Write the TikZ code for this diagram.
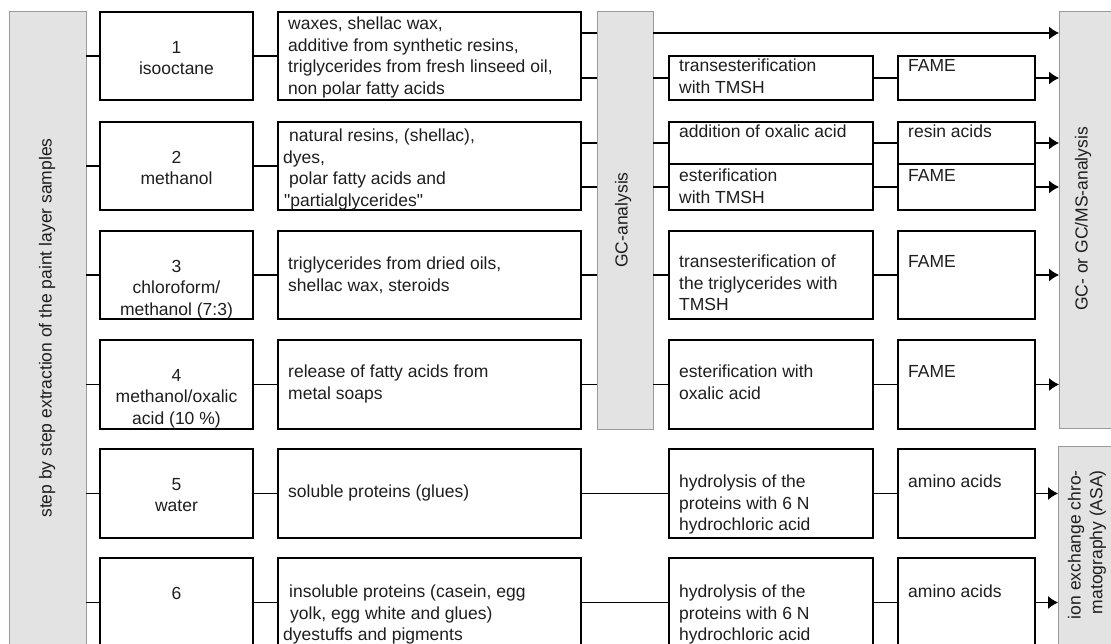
\documentclass[tikz,border=0pt]{standalone}
\usepackage{fontspec}
\setmainfont{Liberation Sans}
\usetikzlibrary{arrows.meta}
\definecolor{barfill}{HTML}{E3E3E3}
\definecolor{barline}{HTML}{9A9A9A}
\definecolor{ink}{HTML}{1E1E1E}
\newcommand{\fs}{\fontsize{17.5}{21.6}\selectfont}
\newcommand{\mkbox}[5]{%
  \node[box, minimum width={(#4-#2)*1pt}, minimum height={(#5-#3)*1pt}] (#1) at (#2,#3) {};
  \draw[side] (#1.north west) -- (#1.south west) (#1.north east) -- (#1.south east);
}
\newcommand{\mkbar}[5]{%
  \node[bar, minimum width={(#4-#2)*1pt}, minimum height={(#5-#3)*1pt}] (#1) at (#2,#3) {};
}
\begin{document}
\begin{tikzpicture}[x=1pt,y=-1pt,
  box/.style={draw=black, line width=1.5pt, inner sep=0pt, outer sep=0pt, anchor=north west},
  side/.style={line width=2.8pt},
  bar/.style={draw=barline, fill=barfill, line width=1pt, inner sep=0pt, outer sep=0pt, anchor=north west},
  txt/.style={inner sep=0pt, anchor=north west, align=left, text=ink, font=\fs},
  ctxt/.style={inner sep=0pt, anchor=north, align=center, text=ink, font=\fs},
  rtxt/.style={inner sep=0pt, rotate=90, text=ink, font=\fs},
  link/.style={line width=1.2pt},
  arr/.style={line width=1.2pt, -{Latex[length=10pt,width=13pt]}}]
\useasboundingbox (0,0) rectangle (1111,644);
\clip (0,0) rectangle (1111,644);
\fill[white] (0,0) rectangle (1111,644);

% grey bars
\mkbar{L}{9}{12}{86}{660}
\mkbar{GC}{597}{12}{653}{429}
\mkbar{MS}{1059}{12}{1125}{428}
\mkbar{ION}{1058}{446}{1125}{660}
\node[rtxt] (tL) at (47,328) {step by step extraction of the paint layer samples};
\node[rtxt] (tGC) at (623,220) {GC-analysis};
\node[rtxt] (tMS) at (1083,219) {GC- or GC/MS-analysis};
\node[rtxt, anchor=east, align=right] (tION) at (1087,470) {ion exchange chro-\\matography (ASA)};

% column 1: solvents
\mkbox{c1}{100}{12}{253}{100}
\mkbox{c2}{100}{122}{253}{210}
\mkbox{c3}{100}{231}{253}{319}
\mkbox{c4}{100}{340}{253}{429}
\mkbox{c5}{100}{449}{253}{538}
\mkbox{c6}{100}{558}{253}{647}
\node[ctxt] (tc1) at (176.5,38) {\strut 1\\isooctane};
\node[ctxt] (tc2) at (176.5,148) {\strut 2\\methanol};
\node[ctxt] (tc3) at (176.5,257) {\strut 3\\chloroform/\\methanol (7:3)};
\node[ctxt] (tc4) at (176.5,366) {\strut 4\\methanol/oxalic\\acid (10 \%)};
\node[ctxt] (tc5) at (176.5,475) {\strut 5\\water};
\node[ctxt] (tc6) at (176.5,584) {\strut 6};

% column 2: extracted substances
\mkbox{d1}{278}{12}{581}{100}
\mkbox{d2}{278}{122}{581}{210}
\mkbox{d3}{278}{231}{581}{319}
\mkbox{d4}{278}{340}{581}{429}
\mkbox{d5}{278}{449}{581}{538}
\mkbox{d6}{278}{558}{581}{647}
\node[txt] (td1) at (288,14.4) {\strut waxes, shellac wax,\\additive from synthetic resins,\\triglycerides from fresh linseed oil,\\non polar fatty acids};
\node[txt] (td2) at (283,126.4) {\strut\hspace*{6pt}natural resins, (shellac),\\dyes,\\\hspace*{6pt}polar fatty acids and\\\hspace*{1pt}\textquotedbl partialglycerides\textquotedbl};
\node[txt] (td3) at (288,254.4) {\strut triglycerides from dried oils,\\shellac wax, steroids};
\node[txt] (td4) at (288,362.4) {\strut release of fatty acids from\\metal soaps};
\node[txt] (td5) at (288,482.4) {\strut soluble proteins (glues)};
\node[txt] (td6) at (283,582.4) {\strut\hspace*{6pt}insoluble proteins (casein, egg\\\hspace*{7pt}yolk, egg white and glues)\\dyestuffs and pigments};

% column 3: derivatisation
\mkbox{r1}{669}{56}{873}{100}
\mkbox{r2a}{669}{122}{873}{164}
\mkbox{r2b}{669}{164}{873}{210}
\mkbox{r3}{669}{231}{873}{319}
\mkbox{r4}{669}{340}{873}{429}
\mkbox{r5}{669}{449}{873}{538}
\mkbox{r6}{669}{558}{873}{647}
\node[txt] (tr1) at (679,56.4) {\strut transesterification\\with TMSH};
\node[txt] (tr2a) at (679,122.4) {\strut addition of oxalic acid};
\node[txt] (tr2b) at (679,166.4) {\strut esterification\\with TMSH};
\node[txt] (tr3) at (679,252.4) {\strut transesterification of\\the triglycerides with\\TMSH};
\node[txt] (tr4) at (679,362.4) {\strut esterification with\\oxalic acid};
\node[txt] (tr5) at (679,472.4) {\strut hydrolysis of the\\proteins with 6 N\\hydrochloric acid};
\node[txt] (tr6) at (679,582.4) {\strut hydrolysis of the\\proteins with 6 N\\hydrochloric acid};

% column 4: products
\mkbox{p1}{898}{56}{1035}{100}
\mkbox{p2a}{898}{122}{1035}{164}
\mkbox{p2b}{898}{164}{1035}{210}
\mkbox{p3}{898}{231}{1035}{319}
\mkbox{p4}{898}{340}{1035}{429}
\mkbox{p5}{898}{449}{1035}{538}
\mkbox{p6}{898}{558}{1035}{647}
\node[txt] (tp1) at (908,56.4) {\strut FAME};
\node[txt] (tp2a) at (908,122.4) {\strut resin acids};
\node[txt] (tp2b) at (908,166.4) {\strut FAME};
\node[txt] (tp3) at (908,252.4) {\strut FAME};
\node[txt] (tp4) at (908,362.4) {\strut FAME};
\node[txt] (tp5) at (908,472.4) {\strut amino acids};
\node[txt] (tp6) at (908,582.4) {\strut amino acids};

% connectors: left bar -> solvents -> substances
\foreach \i in {1,...,6}{
  \draw[link] (L.east |- c\i.west) -- (c\i.west);
  \draw[link] (c\i.east) -- (d\i.west);
}

% row 1
\coordinate (d1a) at ([yshift=23pt]d1.east);
\draw[link] (d1a) -- (d1a -| GC.west);
\draw[arr] (d1a -| GC.east) -- (d1a -| MS.west);
\draw[link] (d1.east |- r1.west) -- (GC.west |- r1.west);
\draw[link] (GC.east |- r1.west) -- (r1.west);
\draw[link] (r1.east) -- (p1.west);
\draw[arr] (p1.east) -- (p1.east -| MS.west);

% rows 2a, 2b, 3, 4 through GC-analysis
\foreach \k/\d in {2a/2,2b/2,3/3,4/4}{
  \draw[link] (d\d.east |- r\k.west) -- (GC.west |- r\k.west);
  \draw[link] (GC.east |- r\k.west) -- (r\k.west);
  \draw[link] (r\k.east) -- (p\k.west);
  \draw[arr] (p\k.east) -- (p\k.east -| MS.west);
}

% rows 5, 6 to ion exchange chromatography
\foreach \k in {5,6}{
  \draw[link] (d\k.east) -- (r\k.west);
  \draw[link] (r\k.east) -- (p\k.west);
  \draw[arr] (p\k.east) -- (p\k.east -| ION.west);
}
\end{tikzpicture}
\end{document}
